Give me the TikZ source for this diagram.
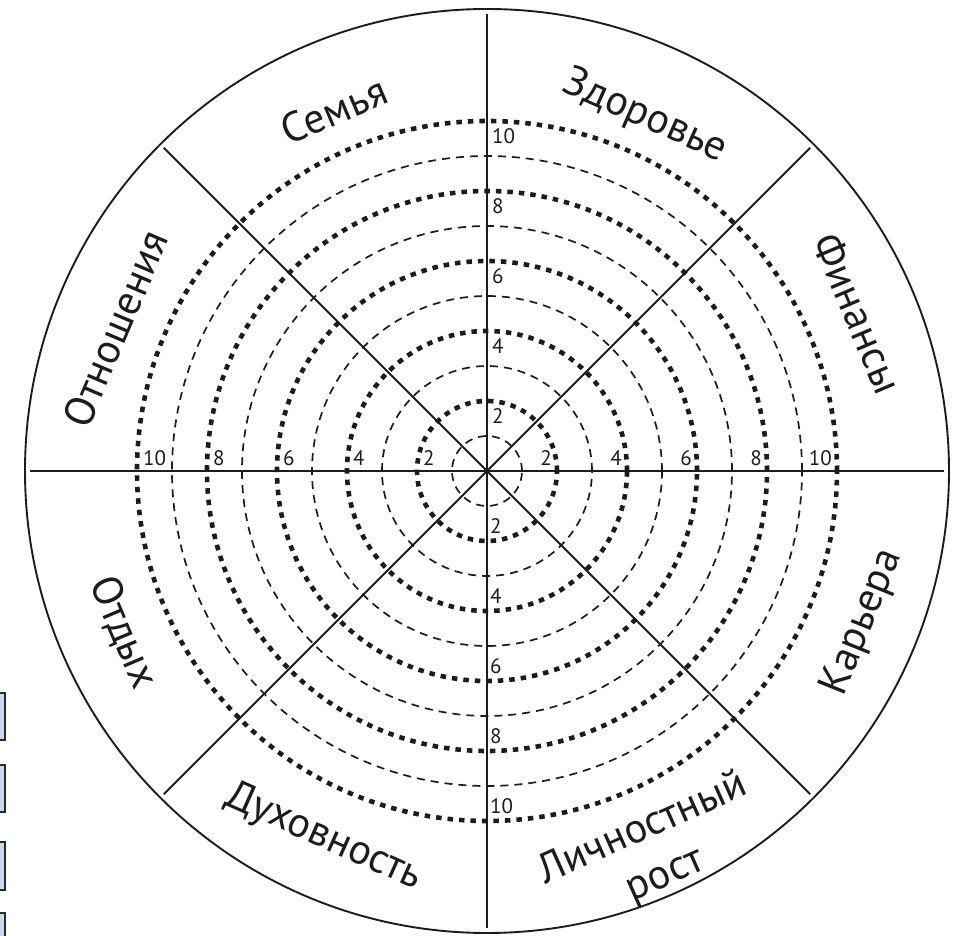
\documentclass[tikz,border=0pt]{standalone}
\usepackage{fontspec}
\setmainfont{PT Sans}
\definecolor{ink}{HTML}{1C1C1C}
\definecolor{tabfill}{HTML}{C9D9EE}
\definecolor{tabedge}{HTML}{2A2A2A}
\begin{document}
\begin{tikzpicture}[x=1pt,y=1pt,
  axisline/.style={line width=1.8pt, draw=ink},
  rimline/.style={line width=1.9pt, draw=ink},
  ringmajor/.style={line width=4.6pt, draw=ink, dash pattern=on 5.5pt off 6pt},
  ringminor/.style={line width=1.7pt, draw=ink, dash pattern=on 8pt off 6pt},
  sector/.style={font=\fontsize{42}{46}\selectfont, text=ink, inner sep=0pt},
  num/.style={font=\fontsize{21}{23}\selectfont, text=ink, inner sep=0pt},
  tabbox/.style={draw=tabedge, fill=tabfill, line width=1.5pt}
]
\useasboundingbox (-487,-465) rectangle (466,471);
% side tabs (cut by the left edge)
\draw[tabbox] (-500,-222) rectangle (-482,-269);
\draw[tabbox] (-500,-294) rectangle (-482,-341);
\draw[tabbox] (-500,-371) rectangle (-482,-419);
\draw[tabbox] (-500,-442) rectangle (-482,-490);
% rings
\foreach \k in {1,3,5,7,9} \draw[ringminor] (0,0) circle[radius=35*\k];
\foreach \k in {2,4,6,8,10} \draw[ringmajor] (0,0) circle[radius=35*\k];
% outer rim
\draw[rimline] (0,0) circle[radius=462];
% axes
\coordinate (c) at (0,0);
\foreach \a/\n in {0/eE,45/eNE,90/eN,135/eNW,180/eW,225/eSW,270/eS,315/eSE}
  \coordinate (\n) at (\a:457);
\draw[axisline] (eW) -- (eE);
\draw[axisline] (eS) -- (eN);
\draw[axisline] (eSW) -- (eNE);
\draw[axisline] (eNW) -- (eSE);
% scale numbers
\foreach \k in {2,4,6,8,10}{
  \pgfmathsetmacro{\r}{35*\k}
  \node[num, anchor=north west] (nt\k) at (5,\r-7) {\k};
  \node[num, anchor=south east] (nr\k) at (\r-5,5) {\k};
  \node[num, anchor=south west] (nl\k) at (-\r+6,5) {\k};
  \node[num, anchor=south west] (nb\k) at (3,-\r+7) {\k};
}
% sector labels
\node[sector, rotate=23] (semya) at (113:392) {Семья};
\node[sector, rotate=-24] (zdorovye) at (66:388) {Здоровье};
\node[sector, rotate=-67] (finansy) at (23:403) {Финансы};
\node[sector, rotate=68] (karyera) at (-22:405) {Карьера};
\node[sector, rotate=24] (lichn) at (-66.4:387) {Личностный};
\node[sector, rotate=24] (rost) at (-66.2:446) {рост};
\node[sector, rotate=-24] (dukh) at (-114:401) {Духовность};
\node[sector, rotate=-67] (otdykh) at (-156:398) {Отдых};
\node[sector, rotate=67] (otnosh) at (159:398) {Отношения};
\end{tikzpicture}
\end{document}
